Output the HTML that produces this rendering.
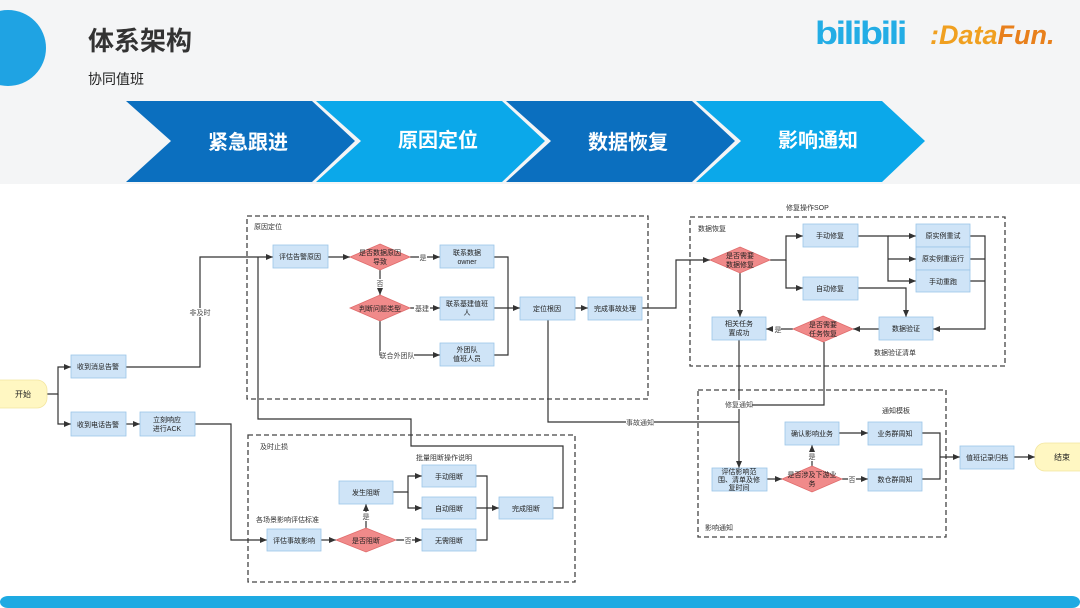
<!DOCTYPE html>
<html><head><meta charset="utf-8">
<style>
html,body{margin:0;padding:0;width:1080px;height:608px;overflow:hidden;background:#fff}
svg{display:block}
text{font-family:"Liberation Sans","Noto Sans CJK SC",sans-serif}
</style></head><body>
<svg width="1080" height="608" viewBox="0 0 1080 608" xmlns="http://www.w3.org/2000/svg">
<defs>
<marker id="a" markerWidth="8" markerHeight="8" refX="7" refY="4" orient="auto" markerUnits="userSpaceOnUse"><path d="M0,1 L7,4 L0,7 Z" fill="#333"/></marker>
</defs>
<rect x="0" y="0" width="1080" height="184" fill="#f4f5f6"/>
<circle cx="8" cy="48" r="38" fill="#1fa3e3"/>
<text x="88" y="50" font-size="26" font-weight="bold" fill="#333">体系架构</text>
<text x="88" y="84" font-size="14" fill="#222">协同值班</text>
<text x="815" y="44" font-size="32" font-weight="bold" fill="#23ade5" letter-spacing="-2" textLength="90" lengthAdjust="spacingAndGlyphs">bilibili</text>
<text x="930" y="44" font-size="27" font-weight="bold" font-style="italic" fill="#f0a020">:Data<tspan fill="#e8801c">Fun.</tspan></text>
<g>
<polygon points="126,101 312,101 355,141 312,182 126,182 171,141" fill="#0b6fbf"/>
<polygon points="316,101 502,101 545,141 502,182 316,182 361,141" fill="#0ba8ea"/>
<polygon points="506,101 692,101 735,141 692,182 506,182 551,141" fill="#0b6fbf"/>
<polygon points="696,101 882,101 925,141 882,182 696,182 741,141" fill="#0ba8ea"/>
<g font-size="20" font-weight="bold" fill="#fff" text-anchor="middle">
<text x="248" y="149">紧急跟进</text><text x="438" y="147">原因定位</text><text x="628" y="149">数据恢复</text><text x="818" y="147">影响通知</text>
</g>
</g>
<rect x="0" y="596" width="1080" height="12" rx="8" fill="#1eaae2"/>

<g fill="none" stroke="#444" stroke-width="1.3" stroke-dasharray="5,3">
<rect x="247" y="216" width="401" height="183"/>
<rect x="690" y="217" width="315" height="149"/>
<rect x="698" y="390" width="248" height="147"/>
<rect x="248" y="435" width="327" height="147"/>
</g>
<g font-size="7" fill="#333">
<text x="254" y="229">原因定位</text>
<text x="698" y="231">数据恢复</text>
<text x="786" y="210">修复操作SOP</text>
<text x="874" y="355">数据验证清单</text>
<text x="705" y="530">影响通知</text>
<text x="882" y="413">通知模板</text>
<text x="260" y="449">及时止损</text>
<text x="416" y="460">批量阻断操作说明</text>
<text x="256" y="522">各场景影响评估标准</text>
</g>

<g fill="none" stroke="#333" stroke-width="1.2">
<path d="M47,394 H58 V367 H71" marker-end="url(#a)"/>
<path d="M58,394 V424 H71" marker-end="url(#a)"/>
<path d="M126,424 H140" marker-end="url(#a)"/>
<path d="M126,367 H200 V257 H273" marker-end="url(#a)"/>
<path d="M195,424 H231 V540 H267" marker-end="url(#a)"/>
<path d="M553,508 H563 V446 H411 V419 H258 V257"/>
<path d="M328,257 H350" marker-end="url(#a)"/>
<path d="M410,257 H440" marker-end="url(#a)"/>
<path d="M380,270 V295" marker-end="url(#a)"/>
<path d="M410,308 H440" marker-end="url(#a)"/>
<path d="M380,321 V355 H440" marker-end="url(#a)"/>
<path d="M494,257 H508 V355 H494"/>
<path d="M494,308 H520" marker-end="url(#a)"/>
<path d="M575,308 H588" marker-end="url(#a)"/>
<path d="M548,320 V422 H739"/>
<path d="M642,308 H676 V260 H710" marker-end="url(#a)"/>
<path d="M770,260 H786 V236 H803" marker-end="url(#a)"/>
<path d="M786,260 V288 H803" marker-end="url(#a)"/>
<path d="M740,273 V317" marker-end="url(#a)"/>
<path d="M858,236 H888 V281 H916" marker-end="url(#a)"/>
<path d="M888,236 H916" marker-end="url(#a)"/>
<path d="M888,259 H916" marker-end="url(#a)"/>
<path d="M970,236 H985 V329 H933" marker-end="url(#a)"/>
<path d="M970,259 H985 M970,281 H985"/>
<path d="M858,288 H906 V317" marker-end="url(#a)"/>
<path d="M879,329 H853" marker-end="url(#a)"/>
<path d="M793,329 H766" marker-end="url(#a)"/>
<path d="M739,340 V468" marker-end="url(#a)"/>
<path d="M824,342 V405 H739"/>
<path d="M767,479 H782" marker-end="url(#a)"/>
<path d="M812,467 V445" marker-end="url(#a)"/>
<path d="M842,479 H868" marker-end="url(#a)"/>
<path d="M839,433 H868" marker-end="url(#a)"/>
<path d="M922,433 H940 V479 H922"/>
<path d="M940,457 H960" marker-end="url(#a)"/>
<path d="M1014,457 H1035" marker-end="url(#a)"/>
<path d="M321,540 H336" marker-end="url(#a)"/>
<path d="M366,528 V504" marker-end="url(#a)"/>
<path d="M396,540 H422" marker-end="url(#a)"/>
<path d="M393,492 H408 V476 H422" marker-end="url(#a)"/>
<path d="M408,492 V508 H422" marker-end="url(#a)"/>
<path d="M476,476 H487 V540 H476"/>
<path d="M476,508 H499" marker-end="url(#a)"/>
</g>
<g font-size="7" fill="#444" text-anchor="middle">
<rect x="188" y="308" width="24" height="9" fill="#fff"/><text x="200" y="315">非及时</text>
<rect x="419" y="253" width="8" height="9" fill="#fff"/><text x="423" y="260">是</text>
<rect x="376" y="279" width="8" height="9" fill="#fff"/><text x="380" y="286">否</text>
<rect x="414" y="304" width="16" height="9" fill="#fff"/><text x="422" y="311">基建</text>
<rect x="380" y="351" width="34" height="9" fill="#fff"/><text x="397" y="358">联合外团队</text>
<rect x="626" y="418" width="28" height="9" fill="#fff"/><text x="640" y="425">事故通知</text>
<rect x="724" y="400" width="28" height="9" fill="#fff"/><text x="739" y="407">修复通知</text>
<rect x="773" y="325" width="8" height="9" fill="#fff"/><text x="778" y="332">是</text>
<rect x="808" y="452" width="8" height="9" fill="#fff"/><text x="812" y="459">是</text>
<rect x="848" y="475" width="8" height="9" fill="#fff"/><text x="852" y="482">否</text>
<rect x="362" y="512" width="8" height="9" fill="#fff"/><text x="366" y="519">是</text>
<rect x="404" y="536" width="8" height="9" fill="#fff"/><text x="408" y="543">否</text>
</g>

<g fill="#cfe4f7" stroke="#9cc5e8" stroke-width="0.8">
<rect x="71" y="355" width="55" height="23"/>
<rect x="71" y="412" width="55" height="24"/>
<rect x="140" y="412" width="55" height="24"/>
<rect x="273" y="245" width="55" height="23"/>
<rect x="440" y="245" width="54" height="23"/>
<rect x="440" y="297" width="54" height="23"/>
<rect x="440" y="343" width="54" height="23"/>
<rect x="520" y="297" width="55" height="23"/>
<rect x="588" y="297" width="54" height="23"/>
<rect x="803" y="224" width="55" height="23"/>
<rect x="803" y="277" width="55" height="23"/>
<rect x="916" y="224" width="54" height="23"/>
<rect x="916" y="247" width="54" height="23"/>
<rect x="916" y="270" width="54" height="22"/>
<rect x="879" y="317" width="54" height="23"/>
<rect x="712" y="317" width="54" height="23"/>
<rect x="712" y="468" width="55" height="23"/>
<rect x="785" y="422" width="54" height="23"/>
<rect x="868" y="422" width="54" height="23"/>
<rect x="868" y="469" width="54" height="22"/>
<rect x="960" y="446" width="54" height="23"/>
<rect x="339" y="481" width="54" height="23"/>
<rect x="422" y="465" width="54" height="22"/>
<rect x="422" y="497" width="54" height="22"/>
<rect x="422" y="529" width="54" height="22"/>
<rect x="499" y="497" width="54" height="22"/>
<rect x="267" y="529" width="54" height="22"/>
</g>
<g fill="#fff7c2" stroke="#f3e6a0" stroke-width="0.8">
<rect x="-10" y="380" width="57" height="28" rx="10"/>
<rect x="1035" y="443" width="60" height="28" rx="10"/>
</g>
<g fill="#f08a8a" stroke="#e06b6b" stroke-width="0.8">
<polygon points="380,244 410,257 380,270 350,257"/>
<polygon points="380,295 410,308 380,321 350,308"/>
<polygon points="740,247 770,260 740,273 710,260"/>
<polygon points="823,316 853,329 823,342 793,329"/>
<polygon points="812,466 842,479 812,492 782,479"/>
<polygon points="366,528 396,540 366,552 336,540"/>
</g>
<g font-size="7" fill="#222" text-anchor="middle">
<text x="23" y="397" font-size="8">开始</text>
<text x="1062" y="460" font-size="8">结束</text>
<text x="98" y="369">收到消息告警</text>
<text x="98" y="427">收到电话告警</text>
<text x="167" y="422">立刻响应</text><text x="167" y="431">进行ACK</text>
<text x="300" y="259">评估告警原因</text>
<text x="380" y="255">是否数据原因</text><text x="380" y="264">导致</text>
<text x="380" y="311">判断问题类型</text>
<text x="467" y="255">联系数据</text><text x="467" y="264">owner</text>
<text x="467" y="306">联系基建值班</text><text x="467" y="315">人</text>
<text x="467" y="352">外团队</text><text x="467" y="361">值班人员</text>
<text x="547" y="311">定位根因</text>
<text x="615" y="311">完成事故处理</text>
<text x="740" y="258">是否需要</text><text x="740" y="267">数据修复</text>
<text x="830" y="238">手动修复</text>
<text x="830" y="291">自动修复</text>
<text x="943" y="238">原实例重试</text>
<text x="943" y="261">原实例重运行</text>
<text x="943" y="284">手动重跑</text>
<text x="906" y="331">数据验证</text>
<text x="823" y="327">是否需要</text><text x="823" y="336">任务恢复</text>
<text x="739" y="326">相关任务</text><text x="739" y="335">置成功</text>
<text x="739" y="474">评估影响范</text><text x="739" y="482">围、清单及修</text><text x="739" y="490">复时间</text>
<text x="812" y="477">是否涉及下游业</text><text x="812" y="486">务</text>
<text x="812" y="436">确认影响业务</text>
<text x="895" y="436">业务群周知</text>
<text x="895" y="482">数仓群周知</text>
<text x="987" y="460">值班记录归档</text>
<text x="366" y="495">发生阻断</text>
<text x="449" y="479">手动阻断</text>
<text x="449" y="511">自动阻断</text>
<text x="449" y="543">无需阻断</text>
<text x="526" y="511">完成阻断</text>
<text x="294" y="543">评估事故影响</text>
<text x="366" y="543">是否阻断</text>
</g>
</svg>
</body></html>
